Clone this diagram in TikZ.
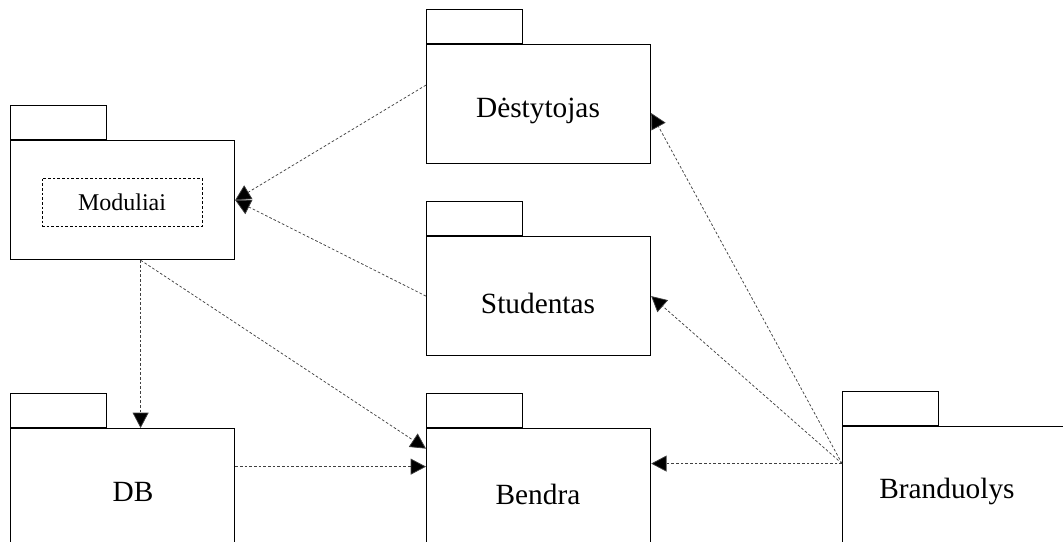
\documentclass[tikz,border=0pt]{standalone}
\usepackage{fontspec}
\setmainfont{Liberation Serif}
\usetikzlibrary{arrows.meta,calc}
\begin{document}
\begin{tikzpicture}[x=0.75pt,y=-0.75pt,
  body/.style={draw, line width=0.9pt, minimum width=168pt, minimum height=89.25pt, inner sep=0pt, anchor=north west},
  tab/.style={draw, line width=0.9pt, minimum width=72pt, minimum height=25.5pt, inner sep=0pt, anchor=south west},
  lbl/.style={font=\fontsize{22}{26}\selectfont, inner sep=0pt},
  inner/.style={draw, line width=0.6pt, dash pattern=on 2pt off 1.5pt, minimum width=120pt, minimum height=36pt, inner sep=0pt, font=\fontsize{18}{21}\selectfont},
  dep/.style={draw=black!75, line width=0.55pt, dash pattern=on 2pt off 1.5pt, -{Triangle[length=11.5pt,width=12pt,fill=black]}}]
\useasboundingbox (0,0) rectangle (1063,542);
\clip (0,0) rectangle (1063,542);
% Moduliai
\node[body] (mod) at (10,140) {};
\node[tab] (modtab) at (mod.north west) {};
\node[inner] (modin) at (122,202) {Moduliai};
% Destytojas
\node[body] (dest) at (426,44) {};
\node[tab] (desttab) at (dest.north west) {};
\node[lbl] (destl) at (538,111) {Dėstytojas};
% Studentas
\node[body] (stud) at (426,236) {};
\node[tab] (studtab) at (stud.north west) {};
\node[lbl] (studl) at (538,303) {Studentas};
% DB
\node[body] (db) at (10,428) {};
\node[tab] (dbtab) at (db.north west) {};
\node[lbl] (dbl) at (133,492) {DB};
% Bendra
\node[body] (bendra) at (426,428) {};
\node[tab] (bendratab) at (bendra.north west) {};
\node[lbl] (bendral) at (538,494) {Bendra};
% Branduolys
\node[body] (bran) at (842,426) {};
\node[tab] (brantab) at (bran.north west) {};
\node[lbl] (branl) at (947,491) {Branduolys};
% connectors
\coordinate (bsrc) at ([yshift=16.9pt]bran.west);
\draw[dep] ([yshift=14.25pt]dest.west) -- (mod.east);
\draw[dep] (stud.west) -- (mod.east);
\draw[dep] ([xshift=13.5pt]mod.south) -- ([xshift=13.5pt]db.north);
\draw[dep] ([xshift=13.5pt]mod.south) -- ([yshift=29.6pt]bendra.west);
\draw[dep] ([yshift=16.1pt]db.east) -- ([yshift=16.1pt]bendra.west);
\draw[dep] (bsrc) -- ([yshift=18.4pt]bendra.east);
\draw[dep] (bsrc) -- (stud.east);
\draw[dep] (bsrc) -- ([yshift=-6.75pt]dest.east);
\end{tikzpicture}
\end{document}
